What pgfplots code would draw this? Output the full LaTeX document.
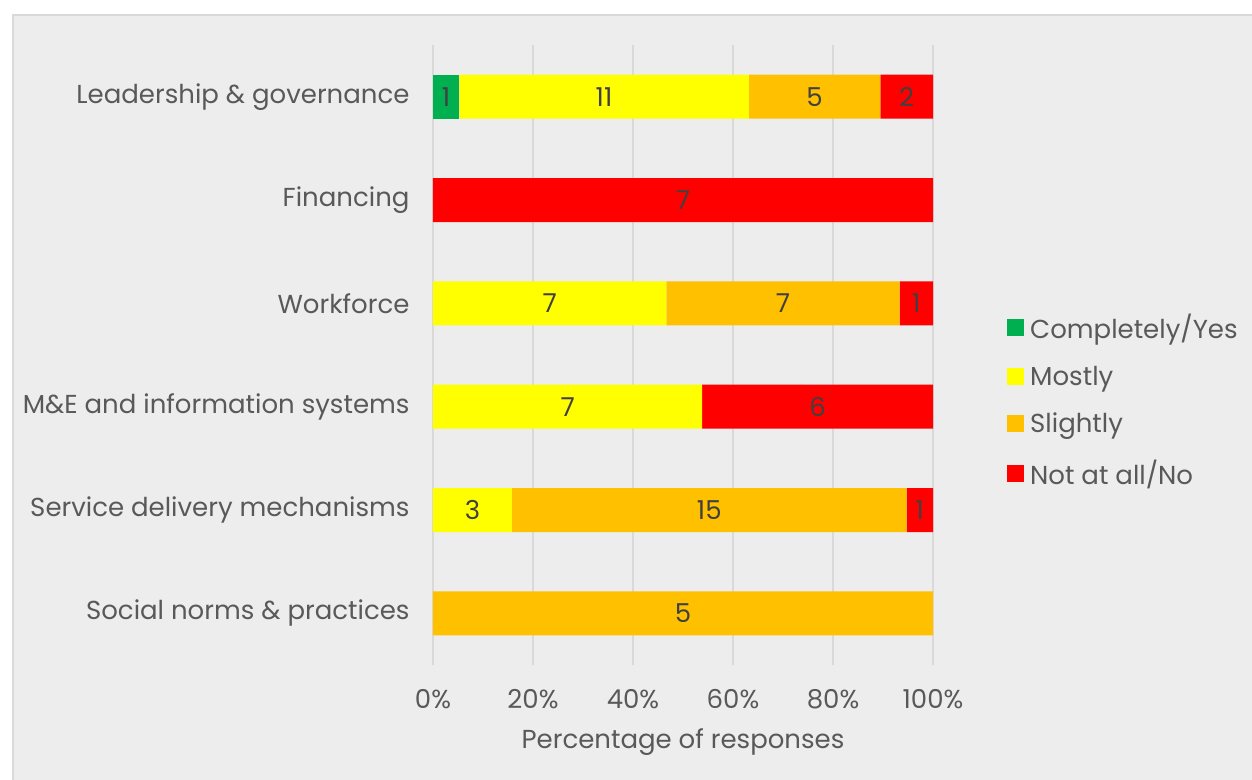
\documentclass[border=0pt]{standalone}
\usepackage{fontspec}
\setmainfont{Poppins}
\usepackage{pgfplots}
\usepackage{pgfplotstable}
\pgfplotsset{compat=1.18}
\definecolor{panel}{HTML}{EDEDED}
\definecolor{frame}{HTML}{D9D9D9}
\definecolor{gridc}{HTML}{D9D9D9}
\definecolor{txt}{HTML}{595959}
\definecolor{lbl}{HTML}{404040}
\definecolor{cgreen}{HTML}{00B050}
\definecolor{cyellow}{HTML}{FFFF00}
\definecolor{corange}{HTML}{FFC000}
\definecolor{cred}{HTML}{FF0000}

% shares in percent of responses, counts as labels
\pgfplotstableread{
y g      ng  m      nm  s      ns  n      nn
0 0      {}  0      {}  100    5   0      {}
1 0      {}  15.789 3   78.947 15  5.263  1
2 0      {}  53.846 7   0      {}  46.154 6
3 0      {}  46.667 7   46.667 7   6.666  1
4 0      {}  0      {}  0      {}  100    7
5 5.263  1   57.895 11  26.316 5   10.526 2
}\resp

\begin{document}
\begin{tikzpicture}
\path[use as bounding box, fill=white] (0,0) rectangle (1252bp,-780bp);
\draw[fill=panel, draw=frame, line width=2bp] (13bp,-15bp) rectangle (1254bp,-782bp);
\begin{axis}[
	at={(433bp,-665bp)}, anchor=south west,
	scale only axis, width=500bp, height=620bp,
	xbar stacked, bar width=44bp,
	xmin=0, xmax=100, ymin=-0.5, ymax=5.5,
	xtick={0,20,40,60,80,100},
	xticklabels={0\%,20\%,40\%,60\%,80\%,100\%},
	ytick={0,1,2,3,4,5},
	yticklabels={
		Social norms \& practices,
		Service delivery mechanisms,
		M\&E and information systems,
		Workforce,
		Financing,
		Leadership \& governance
	},
	axis line style={draw=none},
	tick style={draw=none},
	xmajorgrids, grid style={draw=gridc, line width=1.5bp},
	ticklabel style={font=\fontsize{26bp}{31bp}\selectfont, text=txt},
	xticklabel style={yshift=-21bp},
	yticklabel style={xshift=-20bp},
	xlabel={Percentage of responses},
	xlabel style={font=\fontsize{26bp}{31bp}\selectfont, text=txt, yshift=-13bp},
	nodes near coords,
	point meta=explicit symbolic,
	every node near coord/.append style={anchor=center,
		text=lbl, font=\fontsize{26bp}{31bp}\selectfont},
	legend style={at={(1.148,0.427)}, anchor=west, draw=none, fill=none,
		font=\fontsize{26bp}{31bp}\selectfont, text=txt, row sep=22bp,
		inner sep=0pt},
	legend cell align=left,
	legend image code/.code={\fill[#1] (0bp,-8.5bp) rectangle (17bp,8.5bp);
		\path (21bp,0);},
]
\addplot[fill=cgreen, draw=none] table[x=g, y=y, meta=ng] {\resp};
\addplot[fill=cyellow, draw=none] table[x=m, y=y, meta=nm] {\resp};
\addplot[fill=corange, draw=none] table[x=s, y=y, meta=ns] {\resp};
\addplot[fill=cred, draw=none] table[x=n, y=y, meta=nn] {\resp};
\legend{Completely/Yes, Mostly, Slightly, Not at all/No}
\end{axis}
\end{tikzpicture}
\end{document}
